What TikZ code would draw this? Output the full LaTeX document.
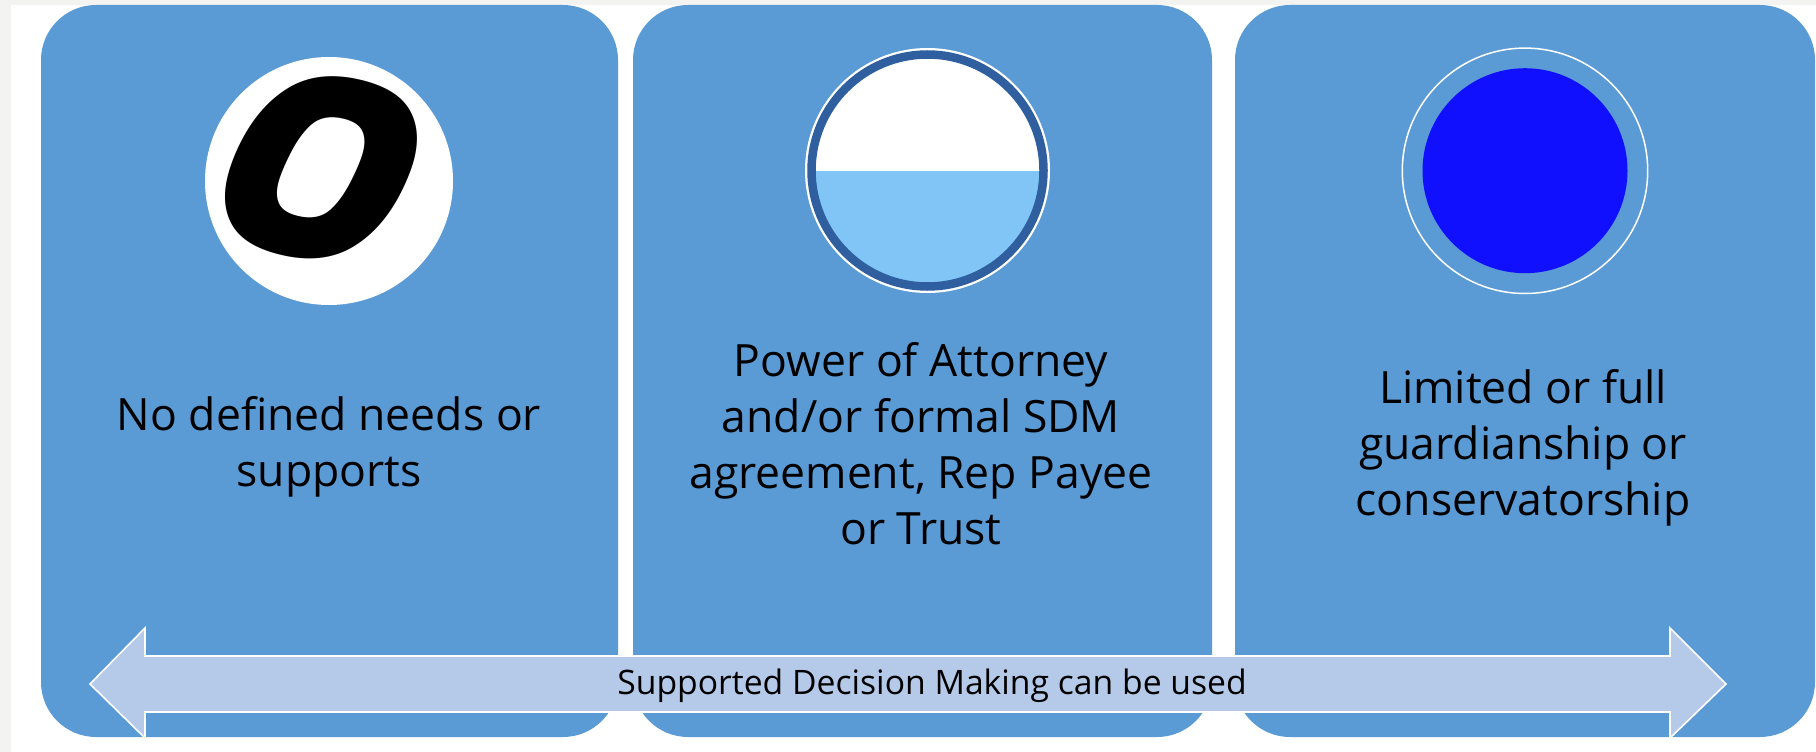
\documentclass[tikz,border=0pt]{standalone}
\usepackage{fontspec}
\usepackage{graphicx}
\setmainfont{Open Sans}
\newfontfamily\zerofont{Poppins}
\definecolor{panelblue}{HTML}{5B9BD5}
\definecolor{halffill}{HTML}{80C5F5}
\definecolor{ringdark}{HTML}{2F5F9E}
\definecolor{deepblue}{HTML}{1010FF}
\definecolor{arrowfill}{HTML}{B5CAE8}
\definecolor{pagegray}{HTML}{F3F3F1}
\tikzset{
  panel/.style={fill=panelblue,rounded corners=55pt,draw=none},
  paneltext/.style={align=center,text=black,font=\fontsize{44.5}{56}\selectfont,inner sep=0pt},
  arrowtext/.style={text=black,font=\fontsize{33.7}{38}\selectfont,inner sep=0pt},
}
\begin{document}
\begin{tikzpicture}[x=1pt,y=-1pt]
\useasboundingbox (0,0) rectangle (1816,752);
\fill[pagegray] (0,0) rectangle (1816,752);
\fill[white] (11,5) rectangle (1816,752);
\path[panel] (41,5) rectangle (618,737);
\path[panel] (633,5) rectangle (1212,737);
\path[panel] (1235,5) rectangle (1815,737);
% circle 1
\fill[white] (329,181) circle[radius=124];
\node[inner sep=0pt,rotate=-14] (zero) at (317,167) {\resizebox{197pt}{190pt}{\zerofont\bfseries\itshape 0}};
% circle 2
\fill[white] (927.5,170.5) circle[radius=122.5];
\begin{scope}
\clip (927.5,170.5) circle[radius=116];
\fill[halffill] (800,171) rectangle (1060,300);
\end{scope}
\draw[ringdark,line width=8.5pt] (927.5,170.5) circle[radius=116];
% circle 3
\draw[white,line width=1.5pt] (1525,170.8) circle[radius=122.7];
\fill[deepblue] (1525,170.7) circle[radius=102.5];
% texts
\node[paneltext] (t1) at (329,447) {No defined needs or\\supports};
\node[paneltext] (t2) at (921,444) {Power of Attorney\\and/or formal SDM\\agreement, Rep Payee\\or Trust};
\node[paneltext] (t3) at (1523,448) {Limited or full\\guardianship or\\conservatorship};
% arrow
\draw[draw=white,fill=arrowfill,line width=1.6pt,line join=miter]
 (90,684) -- (145,628) -- (145,656) -- (1670,656) -- (1670,628) -- (1726,684)
 -- (1670,738) -- (1670,712) -- (145,712) -- (145,738) -- cycle;
\node[arrowtext] (t4) at (932,686) {Supported Decision Making can be used};
\end{tikzpicture}
\end{document}
